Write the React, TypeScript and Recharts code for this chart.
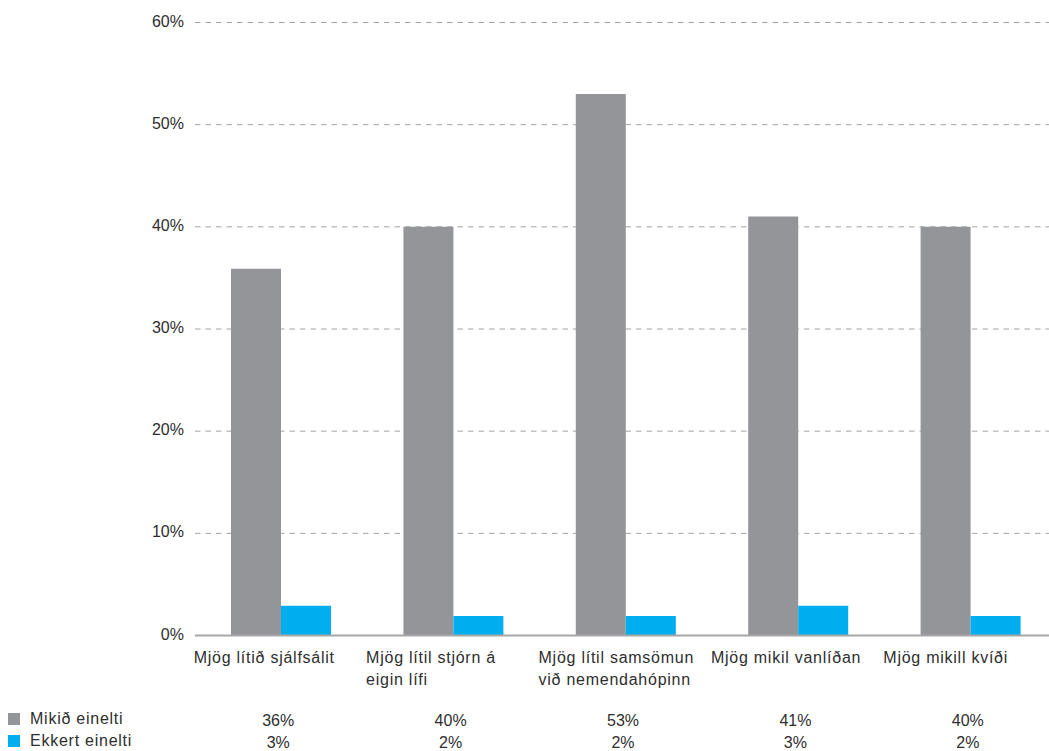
import React from "react";
import { BarChart, Bar, XAxis, YAxis, CartesianGrid } from "recharts";

const categories = [
  "Mjög lítið sjálfsálit",
  "Mjög lítil stjórn á\neigin lífi",
  "Mjög lítil samsömun\nvið nemendahópinn",
  "Mjög mikil vanlíðan",
  "Mjög mikill kvíði",
];
const mikidEinelti = [35.9, 40, 53, 41, 40];
const ekkertEinelti = [2.9, 1.9, 1.9, 2.9, 1.9];
const seriesNames = ["Mikið einelti", "Ekkert einelti"];
const seriesColors = ["#939598", "#00aeef"];
const yTicks = [0, 10, 20, 30, 40, 50, 60];

const data = categories.map((name, i) => ({
  name,
  mikid: mikidEinelti[i],
  ekkert: ekkertEinelti[i],
}));

const FONT = "'Liberation Sans', Arial, Helvetica, sans-serif";
const TEXT = "#2e2e2e";

function YTick({ x, y, payload }: any) {
  return (
    <text x={x} y={y + 4} textAnchor="end" fill={TEXT} fontFamily={FONT} fontSize={16}>
      {payload.value}%
    </text>
  );
}

function XTick({ x, y, payload, index }: any) {
  const lines = String(payload.value).split("\n");
  const i = payload.index ?? index;
  return (
    <g>
      {lines.map((line, k) => (
        <text
          key={k}
          x={x - 87.5}
          y={y + 27.5 + k * 22}
          textAnchor="start"
          fill={TEXT}
          fontFamily={FONT}
          fontSize={16}
          letterSpacing={0.75}
        >
          {line}
        </text>
      ))}
      <text x={x - 3} y={y + 90.5} textAnchor="middle" fill={TEXT} fontFamily={FONT} fontSize={16}>
        {Math.round(mikidEinelti[i])}%
      </text>
      <text x={x - 3} y={y + 112} textAnchor="middle" fill={TEXT} fontFamily={FONT} fontSize={16}>
        {Math.round(ekkertEinelti[i])}%
      </text>
    </g>
  );
}

export default function App() {
  return (
    <div style={{ position: "relative", width: 1049, height: 751, overflow: "hidden", background: "#fff" }}>
      <style>{`body{margin:0}`}</style>
      <BarChart
        width={1057}
        height={751}
        data={data}
        margin={{ top: 22.5, right: 0, bottom: 0, left: 0 }}
        barGap={0}
      >
        <CartesianGrid vertical={false} stroke="#a3a3a3" strokeDasharray="5.5 5" />
        <YAxis
          width={195}
          domain={[0, 60]}
          ticks={yTicks}
          axisLine={false}
          tickLine={false}
          tickSize={0}
          tickMargin={11}
          tick={<YTick />}
        />
        <XAxis
          dataKey="name"
          height={115.5}
          axisLine={{ stroke: "#a7a7a7", strokeWidth: 2 }}
          tickLine={false}
          tickSize={0}
          tickMargin={0}
          interval={0}
          tick={<XTick />}
        />
        <Bar dataKey="mikid" name={seriesNames[0]} fill={seriesColors[0]} barSize={50} isAnimationActive={false} />
        <Bar dataKey="ekkert" name={seriesNames[1]} fill={seriesColors[1]} barSize={50} isAnimationActive={false} />
      </BarChart>
      {seriesNames.map((name, k) => (
        <div
          key={name}
          style={{
            position: "absolute",
            left: 8,
            top: 709 + k * 21.5,
            display: "flex",
            alignItems: "center",
            fontFamily: FONT,
            fontSize: 16,
            letterSpacing: 0.75,
            color: TEXT,
            lineHeight: "20px",
          }}
        >
          <span style={{ width: 12, height: 12, background: seriesColors[k], marginRight: 10, display: "inline-block" }} />
          {name}
        </div>
      ))}
    </div>
  );
}
